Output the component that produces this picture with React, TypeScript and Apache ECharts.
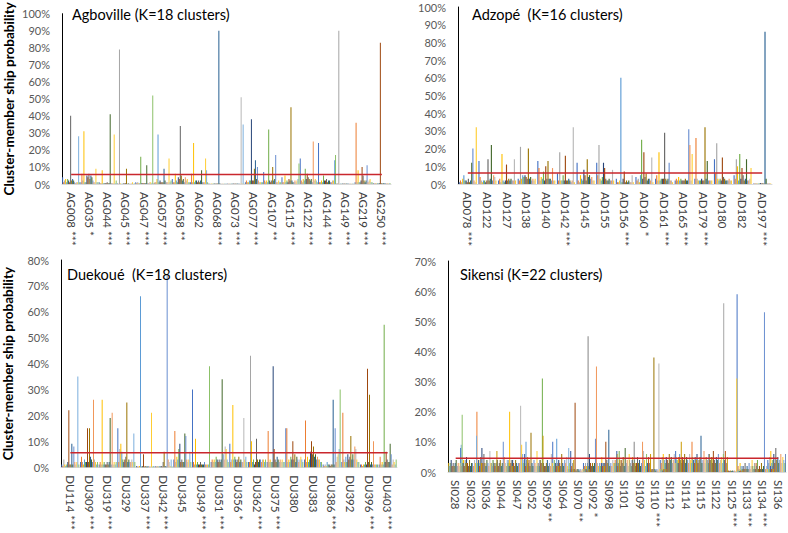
import React, { useEffect, useRef } from "react";
import * as echarts from "echarts";

// ---------- categories ----------
const agbovilleCats = ["AG008 ***", "AG035 *", "AG044 ***", "AG045 ***", "AG047 ***", "AG057 ***", "AG058 **", "AG062", "AG068 ***", "AG073 ***", "AG077 ***", "AG107 **", "AG115 ***", "AG122 ***", "AG144 ***", "AG149 ***", "AG219 ***", "AG250 ***"];
const adzopeCats = ["AD078 ***", "AD122", "AD127", "AD138", "AD140", "AD142 ***", "AD145", "AD155", "AD156 ***", "AD160 *", "AD161 ***", "AD165 ***", "AD179 ***", "AD180", "AD182", "AD197 ***"];
const duekoueCats = ["DU114 ***", "DU309 ***", "DU319 ***", "DU329", "DU337 ***", "DU342 ***", "DU345", "DU349 ***", "DU351 ***", "DU356 *", "DU362 ***", "DU375 ***", "DU380", "DU383", "DU386 ***", "DU392", "DU396 ***", "DU403 ***"];
const sikensiCats = ["SI028", "SI032", "SI036", "SI044", "SI047", "SI052", "SI059 **", "SI064", "SI070 **", "SI092 *", "SI098", "SI101", "SI109", "SI110 ***", "SI112", "SI114", "SI115", "SI122", "SI125 ***", "SI133 ***", "SI134 ***", "SI136"];

// ---------- values (% membership, one row per sample, one column per cluster) ----------
const agbovilleVals = [
  [4, 1, 2, 3, 1, 3, 2, 1, 40, 2, 3, 2, 1, 0.5, 1, 1, 28, 1],
  [1, 6, 2, 31, 1, 1, 5, 4, 6, 3, 5, 4, 2, 1, 1, 9, 1, 1],
  [1, 0.5, 0.5, 8, 0.5, 0.5, 0.5, 0.5, 1, 0.5, 0.5, 41, 0.5, 0.5, 0.5, 29, 0.5, 2],
  [0.3, 0.2, 79, 0.3, 0.2, 0.2, 0.3, 0.3, 0.5, 9, 0.2, 0.3, 0.2, 0.2, 0.3, 1, 0.2, 0.3],
  [1, 0.5, 1, 0.5, 0.5, 16, 0.5, 0.5, 0.5, 0.5, 0.5, 11, 0.5, 0.5, 1, 1, 0.5, 52],
  [0.5, 1, 1, 3, 29, 1, 2, 1, 1, 1, 9, 2, 1, 1, 1, 15, 1, 2],
  [3, 1, 1, 6, 2, 1, 4, 3, 34, 5, 2, 3, 1, 4, 2, 3, 1, 1],
  [1, 6, 1, 24, 1, 2, 2, 1, 2, 1, 2, 8, 1, 1, 1, 15, 8, 1],
  [0.3, 0.2, 0.2, 0.3, 0.2, 0.3, 0.3, 0.2, 0.3, 0.3, 90, 0.3, 0.2, 0.2, 0.3, 0.2, 0.3, 0.2],
  [0.3, 0.2, 0.3, 0.2, 0.3, 0.2, 0.3, 0.2, 0.3, 0.2, 0.3, 0.2, 0.3, 0.2, 51, 0.3, 35, 0.2],
  [1, 2, 1, 1, 2, 2, 38, 2, 2, 9, 14, 3, 10, 2, 1, 1, 1, 1],
  [7, 2, 1, 2, 1, 32, 2, 1, 2, 10, 2, 3, 17, 1, 1, 2, 1, 1],
  [4, 1, 1, 5, 1, 2, 1, 3, 2, 45, 2, 1, 1, 2, 1, 2, 3, 12],
  [15, 2, 1, 3, 2, 9, 3, 6, 4, 3, 2, 3, 1, 25, 2, 3, 2, 1],
  [24, 1, 1, 2, 1, 5, 2, 2, 3, 1, 2, 2, 1, 1, 2, 2, 14, 17],
  [0.3, 0.3, 90, 0.2, 0.3, 0.2, 0.3, 0.2, 0.3, 0.2, 0.3, 0.2, 0.3, 0.2, 0.3, 0.2, 0.3, 0.2],
  [1, 36, 1, 8, 1, 1, 2, 10, 5, 2, 1, 2, 11, 1, 2, 3, 1, 1],
  [0.5, 0.3, 0.5, 0.3, 0.5, 0.3, 0.5, 83, 0.5, 0.3, 0.5, 0.3, 0.5, 0.3, 0.5, 0.3, 0.5, 0.3],
];
const adzopeVals = [
  [1, 2, 1, 3, 5, 2, 2, 1, 3, 1, 2, 12, 20, 2, 1, 32],
  [13, 4, 2, 1, 2, 2, 1, 2, 14, 2, 3, 22, 2, 5, 4, 2],
  [2, 3, 1, 17, 2, 1, 2, 11, 2, 3, 2, 3, 2, 2, 14, 2],
  [3, 2, 21, 3, 5, 4, 5, 4, 3, 20, 3, 4, 2, 3, 2, 3],
  [13, 9, 2, 4, 3, 7, 2, 10, 3, 13, 3, 3, 2, 9, 2, 2],
  [6, 2, 18, 2, 2, 5, 2, 16, 2, 2, 3, 2, 1, 2, 32, 1],
  [12, 2, 1, 5, 3, 2, 8, 5, 2, 14, 4, 5, 3, 4, 2, 2],
  [12, 5, 22, 3, 2, 4, 12, 9, 3, 2, 2, 3, 2, 2, 8, 2],
  [3, 1, 1, 2, 60, 1, 3, 7, 1, 2, 1, 2, 1, 1, 5, 1],
  [4, 2, 3, 1, 5, 25, 3, 18, 4, 6, 2, 3, 3, 2, 15, 1],
  [3, 5, 2, 18, 2, 3, 3, 3, 29, 3, 2, 3, 12, 2, 2, 1],
  [2, 3, 2, 4, 2, 3, 2, 2, 2, 3, 2, 2, 31, 22, 2, 17],
  [3, 26, 3, 2, 2, 2, 3, 2, 2, 32, 3, 13, 2, 2, 2, 2],
  [14, 6, 23, 3, 2, 3, 2, 15, 4, 3, 2, 2, 2, 3, 2, 2],
  [5, 3, 14, 10, 2, 17, 3, 9, 5, 2, 3, 14, 2, 2, 3, 9],
  [0.3, 0.3, 0.4, 0.3, 0.3, 0.3, 0.5, 0.3, 0.4, 0.3, 86, 3, 0.3, 0.3, 0.4, 0.3],
];
const duekoueVals = [
  [1, 0.5, 3, 1, 0.5, 1, 2, 22, 1, 1, 9, 1, 8, 2, 1, 2, 35, 1],
  [2, 4, 2, 1, 3, 2, 2, 15, 2, 15, 4, 3, 2, 26, 3, 2, 1, 2],
  [1, 2, 1, 26, 1, 2, 1, 1, 2, 1, 2, 19, 1, 21, 1, 2, 1, 2],
  [15, 2, 7, 9, 6, 3, 2, 3, 4, 25, 2, 3, 2, 2, 3, 2, 13, 2],
  [0.5, 0.3, 0.3, 0.5, 66, 0.3, 0.4, 5, 0.3, 0.4, 0.3, 0.3, 0.4, 0.3, 0.3, 21, 0.3, 0.4],
  [0.5, 0.3, 0.5, 0.3, 0.5, 0.3, 0.5, 0.3, 2, 6, 0.5, 0.3, 74, 3, 2, 0.5, 3, 0.3],
  [3, 14, 2, 4, 3, 7, 9, 2, 3, 2, 2, 13, 12, 3, 2, 3, 6, 2],
  [30, 2, 1, 11, 1, 2, 1, 1, 2, 1, 1, 1, 2, 1, 1, 1, 1, 39],
  [2, 3, 2, 3, 2, 4, 3, 2, 3, 2, 3, 34, 5, 3, 8, 7, 3, 2],
  [9, 2, 3, 24, 3, 4, 3, 2, 3, 4, 2, 3, 2, 2, 19, 3, 4, 2],
  [2, 2, 43, 10, 2, 3, 1, 2, 11, 3, 2, 3, 3, 2, 3, 3, 2, 3],
  [2, 14, 2, 3, 2, 2, 39, 7, 3, 2, 4, 3, 2, 3, 2, 3, 2, 2],
  [15, 15, 2, 3, 2, 4, 3, 10, 3, 5, 2, 4, 3, 2, 3, 4, 3, 2],
  [3, 18, 2, 4, 2, 3, 6, 10, 5, 8, 4, 5, 3, 4, 3, 3, 2, 2],
  [1, 0.5, 1, 0.5, 2, 1, 1, 0.5, 1, 1, 26, 1, 15, 2, 4, 5, 7, 30],
  [2, 21, 3, 2, 4, 2, 5, 3, 4, 12, 3, 5, 3, 8, 7, 3, 2, 2],
  [1, 1, 0.5, 1, 1, 2, 1, 38, 2, 28, 1, 2, 1, 10, 1, 1, 1, 1],
  [1, 4, 1, 2, 1, 55, 2, 6, 3, 2, 2, 9, 5, 1, 3, 2, 1, 3],
];
const sikensiVals = [
  [5, 4, 2, 3, 2, 3, 4, 2, 3, 2, 3, 4, 2, 3, 2, 3, 9, 19, 3, 2, 4, 3],
  [8, 2, 3, 4, 2, 3, 5, 3, 2, 4, 2, 3, 3, 2, 4, 3, 12, 3, 4, 2, 5, 3],
  [3, 20, 2, 4, 3, 3, 8, 3, 6, 3, 2, 4, 3, 2, 7, 3, 2, 4, 3, 2, 3, 7],
  [3, 2, 4, 3, 2, 3, 4, 2, 3, 4, 2, 3, 10, 5, 3, 2, 4, 3, 2, 3, 4, 2],
  [2, 3, 4, 20, 2, 3, 4, 3, 2, 4, 3, 2, 3, 3, 22, 9, 6, 3, 6, 2, 4, 5],
  [3, 2, 4, 3, 10, 2, 3, 4, 2, 13, 3, 2, 4, 3, 2, 7, 3, 2, 4, 3, 2, 12],
  [2, 3, 2, 4, 3, 31, 3, 2, 2, 3, 4, 2, 3, 2, 6, 3, 2, 4, 3, 2, 3, 2],
  [10, 2, 3, 3, 11, 2, 4, 3, 2, 6, 3, 2, 4, 3, 5, 2, 8, 3, 7, 2, 3, 4],
  [1, 1, 0.5, 1, 0.5, 1, 1, 23, 0.5, 1, 1, 0.5, 1, 0.5, 1, 1, 0.5, 1, 1, 0.5, 45, 1],
  [3, 2, 3, 2, 3, 2, 6, 3, 2, 3, 2, 3, 11, 35, 3, 2, 3, 2, 3, 2, 3, 2],
  [2, 3, 2, 5, 3, 2, 3, 10, 4, 3, 14, 2, 3, 2, 4, 3, 2, 3, 7, 2, 3, 4],
  [3, 4, 2, 6, 3, 7, 2, 4, 3, 5, 2, 8, 3, 4, 2, 6, 3, 2, 4, 3, 10, 3],
  [4, 3, 2, 5, 3, 4, 2, 3, 5, 3, 4, 2, 3, 10, 7, 4, 2, 6, 3, 5, 3, 6],
  [2, 1, 0.5, 1, 0.5, 1, 0.5, 1, 1, 38, 1, 0.5, 1, 0.5, 36, 1, 0.5, 1, 0.5, 1, 0.5, 1],
  [4, 3, 5, 6, 4, 3, 5, 4, 3, 6, 4, 5, 3, 4, 6, 3, 5, 4, 3, 5, 4, 10],
  [7, 4, 3, 5, 6, 4, 3, 5, 4, 6, 3, 5, 4, 3, 6, 4, 3, 5, 4, 3, 5, 4],
  [3, 10, 4, 3, 5, 4, 6, 3, 4, 5, 12, 3, 4, 7, 3, 5, 4, 3, 6, 4, 3, 5],
  [5, 4, 3, 6, 4, 5, 3, 7, 4, 3, 5, 4, 6, 3, 4, 5, 3, 6, 4, 7, 3, 5],
  [0.5, 0.3, 56, 0.5, 0.3, 0.5, 0.3, 0.5, 0.3, 0.5, 0.3, 0.5, 0.3, 0.5, 0.3, 31, 0.3, 0.5, 0.3, 0.5, 0.3, 0.5],
  [59, 2, 1, 3, 2, 1, 2, 1, 3, 1, 2, 1, 3, 1, 2, 4, 1, 2, 1, 3, 2, 1],
  [2, 1, 3, 1, 2, 4, 1, 2, 1, 3, 1, 2, 53, 1, 2, 1, 3, 1, 2, 1, 2, 1],
  [4, 3, 5, 7, 3, 4, 6, 3, 8, 4, 5, 3, 4, 6, 3, 5, 4, 3, 6, 5, 10, 4],
];

const clusterCounts = [18, 16, 18, 22];
const titles = ["Agboville (K=18 clusters)", "Adzopé  (K=16 clusters)", "Duekoué  (K=18 clusters)", "Sikensi (K=22 clusters)"];
const yMaxes = [100, 100, 80, 70];

const palette = [
  "#4472C4", "#ED7D31", "#A5A5A5", "#FFC000", "#5B9BD5", "#70AD47",
  "#264478", "#9E480E", "#636363", "#997300", "#255E91", "#43682B",
  "#698ED0", "#F1975A", "#B7B7B7", "#FFCD33", "#7CAFDD", "#8CC168",
  "#335AA1", "#C55A11", "#848484", "#CC9A00",
];

const FONT = "Lato, 'Liberation Sans', sans-serif";

export default function App() {
  const ref = useRef<HTMLDivElement>(null);

  useEffect(() => {
    if (!ref.current) return;
    const chart = echarts.init(ref.current, undefined, { renderer: "svg" });

    const cats = [agbovilleCats, adzopeCats, duekoueCats, sikensiCats];
    const vals = [agbovilleVals, adzopeVals, duekoueVals, sikensiVals];
    const grids = [
      { left: 62, top: 7, width: 329, height: 177 },
      { left: 458, top: 7, width: 314, height: 177 },
      { left: 54, top: 260, width: 343, height: 210 },
      { left: 448, top: 261, width: 338, height: 211 },
    ];
    const titlePos = [
      { left: 67, top: 2 },
      { left: 467, top: 2 },
      { left: 62, top: 262 },
      { left: 455, top: 262 },
    ];

    const series: any[] = [];
    for (let p = 0; p < 4; p++) {
      const k = clusterCounts[p];
      for (let j = 0; j < k; j++) {
        series.push({
          type: "bar",
          xAxisIndex: p,
          yAxisIndex: p,
          data: vals[p].map((row) => row[j]),
          itemStyle: { color: palette[j] },
          barGap: "0%",
          barCategoryGap: "8%",
          silent: true,
        });
      }
      series.push({
        type: "line",
        xAxisIndex: p,
        yAxisIndex: p,
        data: cats[p].map(() => 100 / k),
        symbol: "none",
        lineStyle: { color: "#C9272D", width: 1.5 },
        silent: true,
        z: 5,
      });
    }

    chart.setOption({
      animation: false,
      textStyle: { fontFamily: FONT },
      title: titles.map((t, i) => ({
        text: t,
        left: titlePos[i].left,
        top: titlePos[i].top,
        textStyle: { fontFamily: FONT, fontSize: 14.5, fontWeight: "normal", color: "#000" },
      })),
      grid: grids,
      xAxis: cats.map((c, i) => ({
        type: "category",
        gridIndex: i,
        data: c,
        axisTick: { show: false },
        axisLine: { show: true, lineStyle: { color: "#d9d9d9", width: 1 } },
        axisLabel: {
          interval: 0,
          rotate: -90,
          margin: 8,
          fontSize: 11.5,
          color: "#404040",
          fontFamily: FONT,
        },
      })),
      yAxis: yMaxes.map((m, i) => ({
        type: "value",
        gridIndex: i,
        min: 0,
        max: m,
        interval: 10,
        splitLine: { show: false },
        axisLine: { show: true, lineStyle: { color: "#000", width: 1 } },
        axisTick: { show: false },
        axisLabel: { formatter: "{value}%", fontSize: 11, color: "#595959", margin: 12, fontFamily: FONT },
        name: i % 2 === 0 ? "Cluster-member ship probability" : "",
        nameLocation: "middle",
        nameGap: 46,
        nameTextStyle: { fontSize: 13.5, fontWeight: "bold", color: "#000", fontFamily: FONT },
      })),
      series,
    });

    return () => chart.dispose();
  }, []);

  return (
    <div
      ref={ref}
      style={{ position: "absolute", left: 0, top: 0, width: 788, height: 533, background: "#fff" }}
    />
  );
}
